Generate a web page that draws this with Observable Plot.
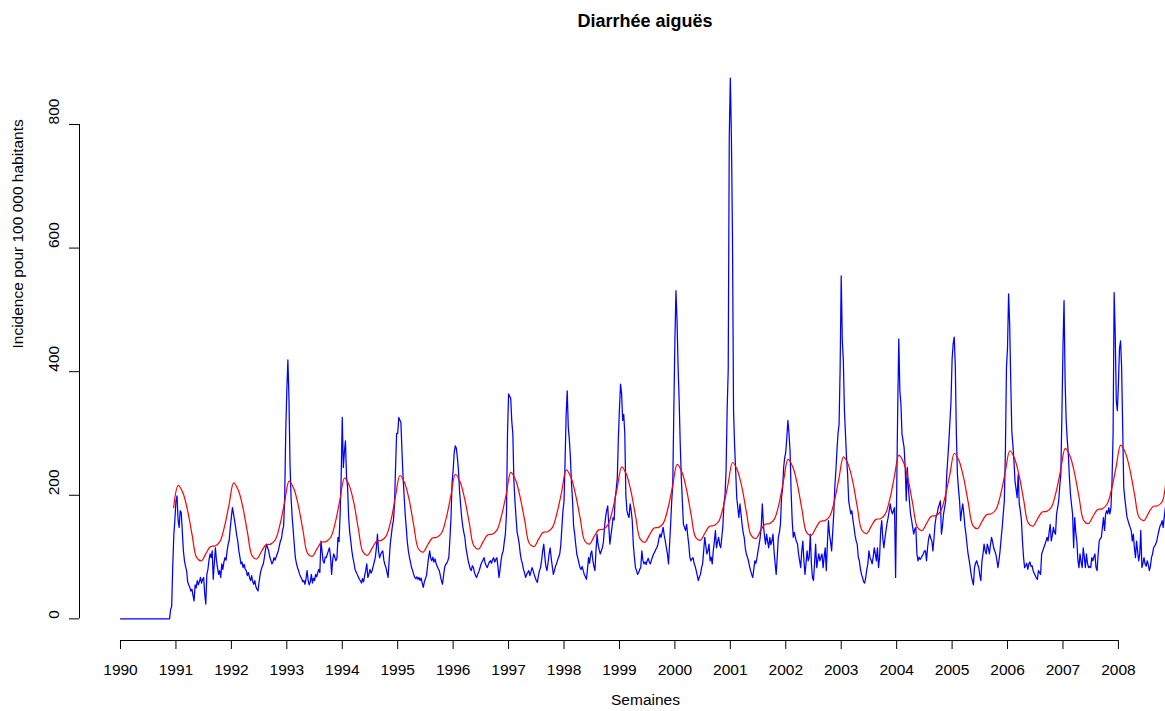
<!DOCTYPE html>
<html>
<head>
<meta charset="utf-8">
<script src="https://cdn.jsdelivr.net/npm/d3@7"></script>
<script src="https://cdn.jsdelivr.net/npm/@observablehq/plot@0.6"></script>
<style>
  html, body { margin: 0; padding: 0; background: #fff; overflow: hidden; }
  #title { height: 42px; line-height: 42px; margin-left: 79px; width: 1132px; text-align: center;
           font-family: "Liberation Sans", Arial, sans-serif; font-weight: bold; font-size: 18px; color: #000; }
  #chart { width: 1211px; }
</style>
</head>
<body>
<div id="title">Diarrhée aiguës</div>
<div id="chart"></div>
<script>
// ---- tick labels ----
const xTicks = [1990,1991,1992,1993,1994,1995,1996,1997,1998,1999,2000,2001,2002,2003,2004,2005,2006,2007,2008];
const yTicks = [0, 200, 400, 600, 800];
const titleText = "Diarrhée aiguës";
const xLabel = "Semaines";
const yLabel = "Incidence pour 100 000 habitants";

// ---- weekly incidence (blue), 52 weeks per year ----
const blue1990 = [0,0,0,0,0,0,0,0,0,0,0,0,0,0,0,0,0,0,0,0,0,0,0,0,0,0,0,0,0,0,0,0,0,0,0,0,0,0,0,0,0,0,0,0,0,0,0,15,20,85,135,160];
const blue1991 = [190,199,160,148,175,172,140,110,94,85,78,60,55,51,45,48,38,29,55,50,62,55,60,67,58,64,67,40,24,72,80,95,105,99,110,64,90,115,95,83,72,78,67,89,80,92,99,95,110,121,128,148];
const blue1992 = [165,180,170,159,148,135,126,110,100,89,92,83,88,80,78,70,75,67,62,70,60,56,62,52,48,45,60,72,80,85,89,100,112,121,115,110,100,95,89,92,99,95,100,105,110,118,126,130,143,150,196,304];
const blue1993 = [369,419,358,250,196,165,143,120,99,90,83,78,72,68,65,60,62,56,65,78,62,55,60,72,58,66,62,72,68,75,80,75,126,110,94,90,100,99,105,110,115,100,72,95,105,100,94,98,132,125,170,230];
const blue1994 = [326,245,270,288,230,213,164,140,126,110,99,90,80,76,72,68,64,62,58,65,60,70,78,89,67,72,80,74,78,85,92,99,115,137,110,99,104,108,110,95,88,83,75,67,95,121,135,150,159,185,245,300];
const blue1995 = [300,326,322,318,272,230,200,170,148,125,110,100,92,83,78,72,67,65,68,64,67,62,66,58,51,60,65,70,85,100,110,98,94,100,92,97,90,85,81,78,70,62,56,70,83,88,90,94,100,130,164,220];
const blue1996 = [240,269,280,276,261,240,207,185,164,150,140,132,115,105,95,88,81,78,86,83,75,70,67,72,76,81,88,92,95,99,90,86,83,88,92,94,90,96,99,92,96,99,85,67,80,95,105,110,125,137,170,299];
const blue1997 = [364,360,357,320,299,223,190,164,140,132,121,105,95,89,80,74,67,72,75,78,70,76,83,78,72,67,62,59,70,78,83,95,110,121,100,85,78,90,105,115,98,85,72,78,85,89,95,100,105,120,148,175];
const blue1998 = [190,256,330,369,310,290,261,220,191,150,137,120,105,98,90,83,80,85,78,72,68,64,80,99,90,105,110,95,85,78,110,137,120,112,105,110,115,125,148,165,175,183,150,121,135,148,164,160,196,210,229,294];
const blue1999 = [340,380,365,321,331,300,200,175,168,164,186,175,159,120,100,83,78,72,75,80,83,110,95,89,92,88,94,98,92,89,95,100,105,108,112,115,120,130,137,132,140,148,135,126,115,105,89,120,153,190,218,337];
const blue2000 = [450,531,483,407,353,283,229,190,153,148,143,153,135,121,100,94,97,99,90,85,78,70,62,68,72,83,89,110,132,118,105,110,121,94,100,89,110,125,143,115,125,132,120,115,132,150,186,200,240,337,402,780];
const blue2001 = [875,780,620,337,280,240,196,180,164,186,170,153,140,132,115,105,100,94,85,78,72,67,80,94,90,99,110,120,132,150,186,153,135,121,137,125,115,132,120,126,137,110,90,72,100,132,140,153,196,210,245,261];
const blue2002 = [270,294,321,300,272,207,160,132,140,132,125,121,105,94,83,110,126,95,72,90,110,94,100,137,90,67,62,90,121,83,95,105,94,100,105,83,100,115,78,120,159,137,125,110,140,170,213,240,272,300,315,407];
const blue2003 = [555,450,418,337,299,260,234,191,180,170,175,160,148,135,126,121,100,94,81,72,67,60,58,67,80,89,110,99,95,89,100,115,105,94,115,83,100,143,159,130,115,130,143,155,164,175,186,175,170,175,180,67];
const blue2004 = [200,342,453,369,348,299,288,277,245,191,245,213,190,170,160,148,137,145,148,105,94,100,96,99,102,105,110,110,94,115,130,137,130,126,110,130,153,165,170,180,185,191,137,150,170,180,191,234,260,288,320,353];
const blue2005 = [420,445,456,410,299,234,210,191,159,175,186,170,150,137,120,105,95,83,70,62,55,83,90,94,88,83,70,62,94,105,121,110,105,121,115,105,120,132,125,115,110,105,95,83,95,110,130,148,170,191,272,407];
const blue2006 = [439,526,477,385,304,282,256,223,210,196,234,186,175,160,126,100,83,86,90,80,89,92,85,86,78,74,70,66,64,78,75,72,105,110,115,120,125,132,126,140,153,126,135,148,140,137,170,180,191,215,234,331];
const blue2007 = [439,515,385,321,290,267,230,202,185,170,115,164,140,126,95,83,105,92,83,115,100,83,105,90,83,85,83,99,94,100,105,83,78,105,126,130,132,148,164,143,170,175,170,180,170,180,223,299,528,461,353,337];
const blue2008 = [380,437,450,407,310,213,195,180,165,159,153,148,143,126,137,115,99,126,110,94,105,143,83,90,99,89,85,94,88,78,85,99,105,115,118,121,126,135,143,150,153,159,148,165,180];

// ---- seasonal baseline (red), one value per month ----
const red1990 = [null,null,null,null,null,null,null,null,null,null,null,180];
const red1991 = [216,204,176,136,99,94,106,117,118,125,149,185];
const red1992 = [220,208,180,139,102,97,109,120,121,128,152,188];
const red1993 = [223,211,183,143,106,101,113,124,125,132,156,193];
const red1994 = [228,216,188,145,108,103,115,126,127,134,158,197];
const red1995 = [232,220,192,150,113,108,120,131,132,139,163,199];
const red1996 = [234,222,194,155,118,113,125,136,137,144,168,202];
const red1997 = [237,225,197,159,122,117,129,140,141,148,172,206];
const red1998 = [241,229,201,163,126,121,133,144,145,152,176,211];
const red1999 = [246,234,206,166,129,124,136,147,148,155,179,215];
const red2000 = [250,238,210,169,132,127,139,150,151,158,182,218];
const red2001 = [253,241,213,172,135,130,142,153,154,161,185,223];
const red2002 = [258,246,218,177,140,135,147,158,159,166,190,227];
const red2003 = [262,250,222,180,143,138,150,161,162,169,193,230];
const red2004 = [265,253,225,185,148,143,155,166,167,174,198,233];
const red2005 = [268,256,228,188,151,146,158,169,170,177,201,237];
const red2006 = [272,260,232,192,155,150,162,173,174,181,205,241];
const red2007 = [276,264,236,196,159,154,166,177,178,185,209,246];
const red2008 = [281,269,241,201,164,159,171,182,183,190,248];

const blueYears = [blue1990,blue1991,blue1992,blue1993,blue1994,blue1995,blue1996,blue1997,blue1998,blue1999,
                   blue2000,blue2001,blue2002,blue2003,blue2004,blue2005,blue2006,blue2007,blue2008];
const redYears = [red1990,red1991,red1992,red1993,red1994,red1995,red1996,red1997,red1998,red1999,
                  red2000,red2001,red2002,red2003,red2004,red2005,red2006,red2007,red2008];

const blue = blueYears.flatMap((vals, i) => vals.map((v, w) => ({t: xTicks[i] + w / 52, v})));
const red = redYears.flatMap((vals, i) => vals.map((v, m) => ({t: xTicks[i] + (m + 0.5) / 12, v})))
                    .filter(d => d.v != null);

const xDomain = [1989.2605, 2009.679];
const yDomain = [-35, 910];
const font = "'Liberation Sans', Arial, Helvetica, sans-serif";

const chart = Plot.plot({
  width: 1211,
  height: 669,
  marginLeft: 79,
  marginRight: 0,
  marginTop: 14,
  marginBottom: 71,
  style: {fontFamily: font, fontSize: "15.5px", color: "#000", background: "#fff", overflow: "visible"},
  x: {domain: xDomain},
  y: {domain: yDomain},
  marks: [
    Plot.line(blue, {x: "t", y: "v", stroke: "#0000ff", strokeWidth: 1.25}),
    Plot.line(red, {x: "t", y: "v", stroke: "#ff0000", strokeWidth: 1.2, curve: "catmull-rom"}),
    Plot.axisX({ticks: xTicks, tickFormat: d => String(d), tickSize: 9, tickPadding: 14, fontSize: 15.5, label: null, stroke: "#000"}),
    Plot.ruleY([yDomain[0]], {x1: () => xTicks[0], x2: () => xTicks[xTicks.length - 1], stroke: "#000", strokeWidth: 1}),
    Plot.axisY({ticks: yTicks, tickSize: 10, tickFormat: () => "", label: null, stroke: "#000"}),
    Plot.ruleX([xDomain[0]], {y1: () => yTicks[0], y2: () => yTicks[yTicks.length - 1], stroke: "#000", strokeWidth: 1}),
    Plot.text(yTicks, {y: d => d, frameAnchor: "left", dx: -25, rotate: -90, text: d => String(d), fontSize: 15.5, fill: "#000"}),
    Plot.text([yLabel], {frameAnchor: "left", dx: -61, rotate: -90, text: d => d, fontSize: 15.5, fill: "#000"}),
    Plot.text([xLabel], {frameAnchor: "bottom", dy: 64, text: d => d, fontSize: 15.5, fill: "#000"})
  ]
});
document.getElementById("chart").appendChild(chart);
document.getElementById("title").textContent = titleText;
</script>
</body>
</html>
